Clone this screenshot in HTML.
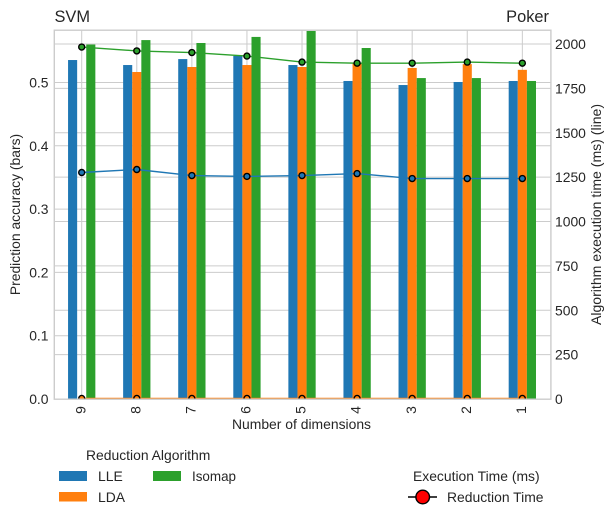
<!DOCTYPE html>
<html>
<head>
<meta charset="utf-8">
<title>SVM Poker chart</title>
<style>
html,body{margin:0;padding:0;background:#fff;}
svg{display:block;}
text{font-family:"Liberation Sans",Arial,sans-serif;fill:#262626;}
</style>
</head>
<body>
<svg id="chart" width="615" height="520" viewBox="0 0 615 520" xmlns="http://www.w3.org/2000/svg">
  <defs><clipPath id="plot-clip"><rect x="54" y="30" width="497" height="369.5"/></clipPath></defs>
  <g id="grid"></g>
  <g id="bars" clip-path="url(#plot-clip)"></g>
  <g id="lines" clip-path="url(#plot-clip)"></g>
  <rect x="54.3" y="30.2" width="496.6" height="369" fill="none" stroke="#cccccc" stroke-width="1.4"/>
  <g id="ticks"></g>

  <text x="54.5" y="22" font-size="16.4">SVM</text>
  <text x="549" y="22" font-size="16.4" text-anchor="end">Poker</text>
  <text x="301.5" y="429" font-size="13.9" text-anchor="middle" textLength="139" lengthAdjust="spacingAndGlyphs">Number of dimensions</text>
  <text transform="translate(20,214.5) rotate(-90)" font-size="13.9" text-anchor="middle">Prediction accuracy (bars)</text>
  <text transform="translate(601,214.5) rotate(-90)" font-size="13.9" text-anchor="middle" textLength="221" lengthAdjust="spacingAndGlyphs">Algorithm execution time (ms) (line)</text>

  <g>
    <text x="86" y="460" font-size="13.9">Reduction Algorithm</text>
    <rect x="59" y="471" width="28" height="10" fill="#1f77b4"/>
    <text x="98" y="481" font-size="13.9">LLE</text>
    <rect x="59" y="492" width="28" height="9.5" fill="#ff7f0e"/>
    <text x="98" y="502" font-size="13.9">LDA</text>
    <rect x="153" y="471" width="28" height="10" fill="#2ca02c"/>
    <text x="192" y="481" font-size="13.9" textLength="44" lengthAdjust="spacingAndGlyphs">Isomap</text>
  </g>
  <g>
    <text x="413" y="481" font-size="13.9">Execution Time (ms)</text>
    <line x1="408" y1="497" x2="437" y2="497" stroke="#000" stroke-width="1.5"/>
    <circle cx="422.7" cy="497" r="6.8" fill="#ff0000" stroke="#000" stroke-width="1.4"/>
    <text x="447" y="502" font-size="13.9">Reduction Time</text>
  </g>
</svg>
<script>
const categories = ["9","8","7","6","5","4","3","2","1"];
const accuracyLLE = [0.5355,0.5276,0.537,0.542,0.5276,0.5024,0.496,0.5008,0.5024];
const accuracyLDA = [0,0.5166,0.5245,0.5276,0.5245,0.53,0.523,0.529,0.52];
const accuracyIsomap = [0.56,0.567,0.5624,0.572,0.5814,0.5545,0.507,0.507,0.5024];
const timeLLE = [1276,1293,1259,1254,1259,1270,1242,1242,1242];
const timeLDA = [3,3,3,3,3,3,3,3,3];
const timeIsomap = [1983,1961,1952,1932,1898,1892,1892,1898,1892];
const accuracyTicks = [0,0.1,0.2,0.3,0.4,0.5];
const timeTicks = [0,250,500,750,1000,1250,1500,1750,2000];

const NS = "http://www.w3.org/2000/svg";
const plotLeft = 54.5, plotRight = 551, plotTop = 30, plotBottom = 399;
const xScale = i => 81.7 + 55.08 * i;
const yLeft = v => 399 - v * 633;
const yRight = v => 399 - v * 0.1775;
const barWidth = 9.1;

function make(parent, tag, attrs, text) {
  const e = document.createElementNS(NS, tag);
  for (const k in attrs) e.setAttribute(k, attrs[k]);
  if (text !== undefined) e.textContent = text;
  parent.appendChild(e);
  return e;
}
const grid = document.getElementById("grid");
const bars = document.getElementById("bars");
const lines = document.getElementById("lines");
const ticks = document.getElementById("ticks");
const gridStyle = {stroke:"#cccccc","stroke-width":1};

categories.forEach((c, i) => {
  const g = make(grid, "line", Object.assign({x1:xScale(i),x2:xScale(i),y1:plotTop,y2:plotBottom}, gridStyle));
  
  
  const t = make(ticks, "text", {transform:`translate(${xScale(i)+3.6},410) rotate(-90)`,"font-size":13.9,"text-anchor":"middle"}, c);
  
  
});
accuracyTicks.forEach(v => {
  const g = make(grid, "line", Object.assign({x1:plotLeft,x2:plotRight,y1:yLeft(v),y2:yLeft(v)}, gridStyle));
  
  
  const t = make(ticks, "text", {x:48.5,y:yLeft(v)+5,"font-size":13.9,"text-anchor":"end"}, v.toFixed(1));
  
  
});
timeTicks.forEach(v => {
  const g = make(grid, "line", Object.assign({x1:plotLeft,x2:plotRight,y1:yRight(v),y2:yRight(v)}, gridStyle));
  
  
  const t = make(ticks, "text", {x:555,y:yRight(v)+5,"font-size":13.9}, String(v));
  
  
});

function drawBars(values, offset, color, label) {
  values.forEach((v, i) => {
    const r = make(bars, "rect", {x:xScale(i)+offset*barWidth-barWidth/2,y:yLeft(v),width:barWidth,height:Math.max(0,yLeft(0)-yLeft(v)),fill:color});
    
    
  });
}
drawBars(accuracyLLE, -1, "#1f77b4", "lle");
drawBars(accuracyLDA, 0, "#ff7f0e", "lda");
drawBars(accuracyIsomap, 1, "#2ca02c", "isomap");

function drawLine(values, color, label) {
  const pts = values.map((v, i) => xScale(i) + "," + yRight(v)).join(" ");
  const p = make(lines, "polyline", {points:pts,fill:"none",stroke:color,"stroke-width":1.4});
  
  
  values.forEach((v, i) => {
    const m = make(lines, "circle", {cx:xScale(i),cy:yRight(v),r:3,fill:color,stroke:"#000","stroke-width":1.4});
    
    
  });
}
drawLine(timeLLE, "#1f77b4", "lle");
drawLine(timeLDA, "#ff7f0e", "lda");
drawLine(timeIsomap, "#2ca02c", "isomap");
</script>
</body>
</html>
